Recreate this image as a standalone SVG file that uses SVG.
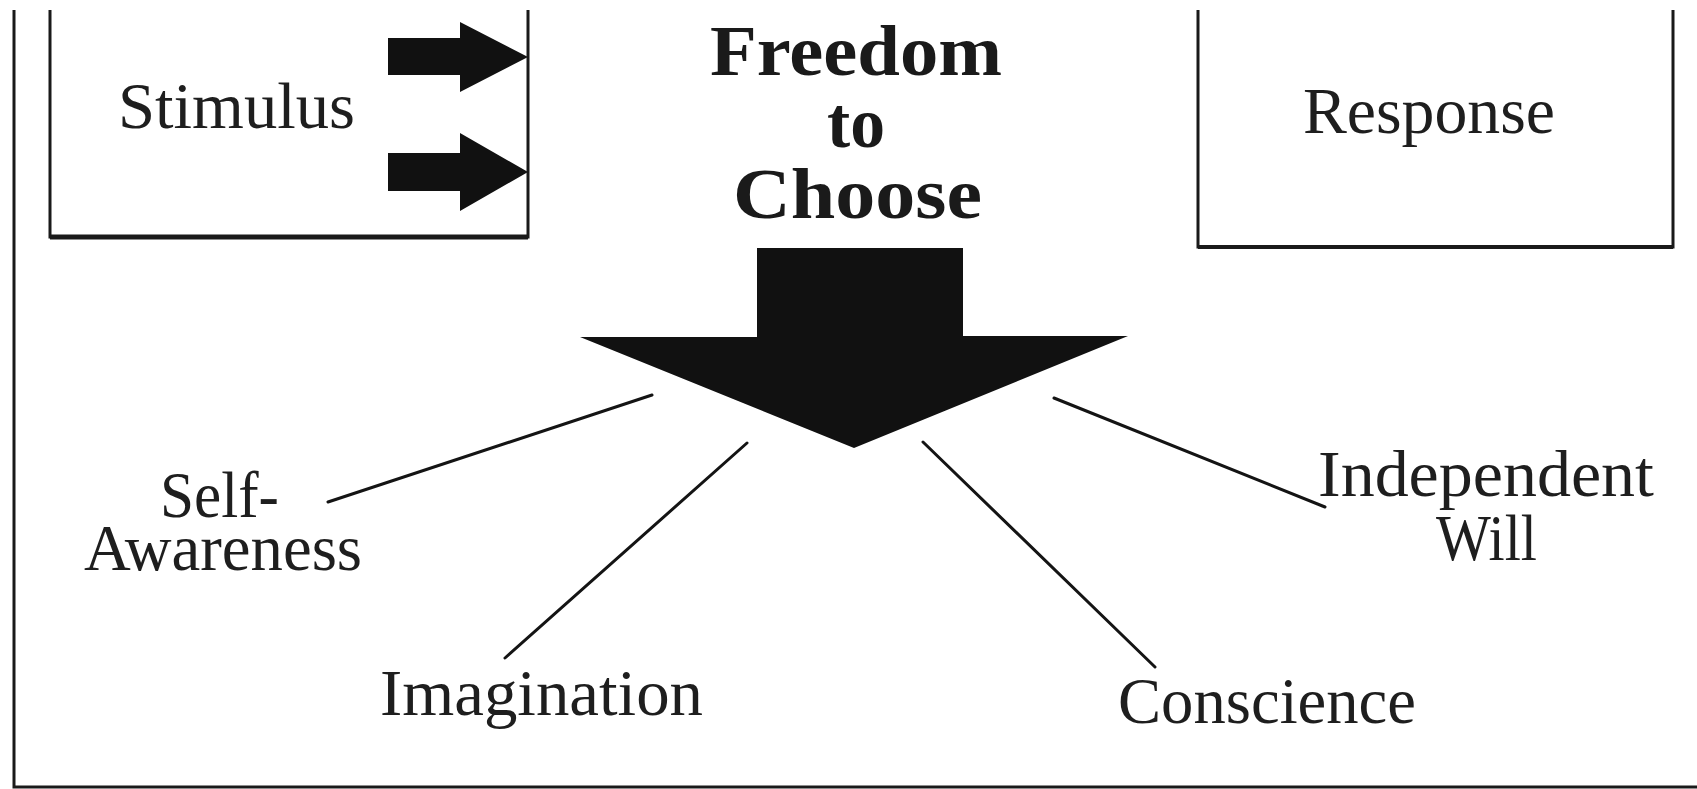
<svg xmlns="http://www.w3.org/2000/svg" width="1697" height="789" viewBox="0 0 1697 789">
<style>
.lbl{font-family:"Liberation Serif","DejaVu Serif",serif;font-size:65px;fill:#1e1e1e}
.ttl{font-family:"Liberation Serif","DejaVu Serif",serif;font-size:72px;font-weight:bold;fill:#1a1a1a}
.box{fill:none;stroke:#1a1a1a;stroke-width:3}
.con{stroke:#141414;stroke-width:3;stroke-linecap:round}
.blk{fill:#111}
</style>
<rect width="1697" height="789" fill="#fff"/>
<g id="frame">
<path d="M14,10 V787 H1697" fill="none" stroke="#1a1a1a" stroke-width="3"/>
</g>
<g id="stimulus">
<path class="box" d="M50,10 V237 H528 V10"/>
<line x1="50" y1="237" x2="528" y2="237" stroke="#1a1a1a" stroke-width="5"/>
<text class="lbl" x="118" y="128" textLength="237" lengthAdjust="spacingAndGlyphs">Stimulus</text>
<polygon class="blk" points="388,38 460,38 460,22 528,57 460,92 460,75 388,75"/>
<polygon class="blk" points="388,153 460,153 460,133 528,172 460,211 460,191 388,191"/>
</g>
<g id="response">
<path class="box" d="M1198,10 V247 H1673 V10"/>
<line x1="1198" y1="247" x2="1673" y2="247" stroke="#1a1a1a" stroke-width="4"/>
<text class="lbl" x="1303" y="133" textLength="252" lengthAdjust="spacingAndGlyphs">Response</text>
</g>
<g id="freedom">
<text class="ttl" x="710" y="75" textLength="292" lengthAdjust="spacingAndGlyphs">Freedom</text>
<text class="ttl" x="827" y="147" textLength="58" lengthAdjust="spacingAndGlyphs">to</text>
<text class="ttl" x="733" y="218" textLength="249" lengthAdjust="spacingAndGlyphs">Choose</text>
<polygon class="blk" points="757,248 963,248 963,336 1128,336 854,448 580,337 757,337"/>
</g>
<g id="self-awareness">
<text class="lbl" x="160" y="517" textLength="119" lengthAdjust="spacingAndGlyphs">Self-</text>
<text class="lbl" x="84" y="570" textLength="278" lengthAdjust="spacingAndGlyphs">Awareness</text>
</g>
<g id="imagination">
<text class="lbl" x="380" y="715" textLength="323" lengthAdjust="spacingAndGlyphs">Imagination</text>
</g>
<g id="conscience">
<text class="lbl" x="1118" y="723" textLength="298" lengthAdjust="spacingAndGlyphs">Conscience</text>
</g>
<g id="independent-will">
<text class="lbl" x="1318" y="496" textLength="336" lengthAdjust="spacingAndGlyphs">Independent</text>
<text class="lbl" x="1436" y="560" textLength="101" lengthAdjust="spacingAndGlyphs">Will</text>
</g>
<g id="connectors">
<line class="con" x1="328" y1="502" x2="652" y2="395"/>
<line class="con" x1="505" y1="658" x2="747" y2="443"/>
<line class="con" x1="923" y1="442" x2="1155" y2="667"/>
<line class="con" x1="1054" y1="398" x2="1325" y2="507"/>
</g>
</svg>
